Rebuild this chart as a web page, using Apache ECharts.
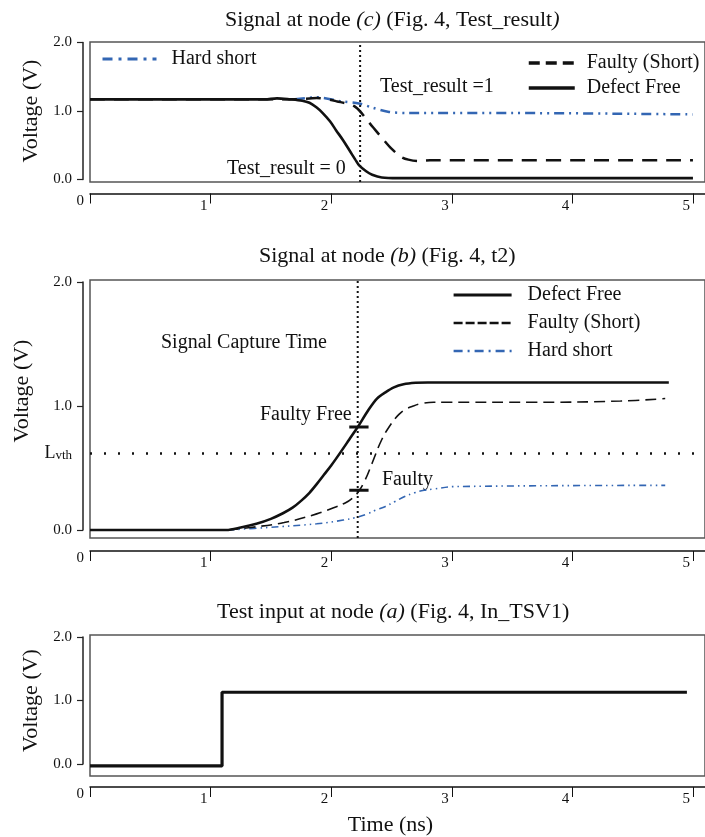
<!DOCTYPE html>
<html><head><meta charset="utf-8">
<script src="https://cdn.jsdelivr.net/npm/echarts@6/dist/echarts.min.js"></script>
<style>html,body{margin:0;padding:0;background:#fff}#c{width:705px;height:837px}</style>
</head><body><div id="c"></div>
<script>
// ---------- data ----------
const xTicks = [0, 1, 2, 3, 4, 5];
const yTicks = [0, 1, 2];
const lvth = 0.62;          // threshold level (node b)
const tResult = 2.24;       // sampling instant, node c
const tCapture = 2.22;      // signal capture time, node b

// node (c) Test_result : [time ns, V]
const cDefectFree = [[0,1.17],[1.45,1.17],[1.55,1.185],[1.66,1.17],[1.76,1.15],[1.82,1.12],[1.88,1.05],[1.93,0.97],[1.99,0.85],[2.04,0.72],[2.10,0.57],[2.15,0.43],[2.20,0.29],[2.23,0.21],[2.29,0.12],[2.34,0.07],[2.42,0.03],[2.55,0.02],[5.0,0.02]];
const cFaulty = [[0,1.17],[1.70,1.17],[1.88,1.19],[2.05,1.14],[2.20,1.06],[2.31,0.84],[2.42,0.61],[2.50,0.45],[2.58,0.33],[2.64,0.29],[2.72,0.27],[2.82,0.28],[5.0,0.28]];
const cHardShort = [[1.70,1.17],[1.88,1.20],[2.09,1.14],[2.23,1.11],[2.34,1.05],[2.47,0.99],[2.64,0.97],[3.5,0.97],[5.0,0.95]];

// node (b) t2
const bDefectFree = [[0,0.0],[1.13,0.0],[1.25,0.02],[1.38,0.05],[1.50,0.09],[1.60,0.135],[1.68,0.18],[1.75,0.235],[1.82,0.30],[1.88,0.37],[1.94,0.445],[2.00,0.52],[2.08,0.63],[2.15,0.73],[2.22,0.83],[2.31,0.97],[2.38,1.06],[2.45,1.11],[2.52,1.15],[2.60,1.175],[2.70,1.187],[2.80,1.19],[4.80,1.19]];
const bFaulty = [[1.14,0.0],[1.33,0.02],[1.61,0.06],[1.88,0.13],[2.02,0.18],[2.12,0.22],[2.18,0.26],[2.22,0.30],[2.28,0.40],[2.34,0.54],[2.42,0.73],[2.50,0.86],[2.56,0.93],[2.61,0.97],[2.68,1.00],[2.75,1.02],[2.85,1.03],[2.96,1.03],[3.67,1.03],[4.40,1.04],[4.77,1.06]];
const bHardShort = [[1.14,0.0],[1.47,0.02],[1.88,0.05],[2.10,0.08],[2.20,0.10],[2.30,0.13],[2.37,0.16],[2.45,0.19],[2.53,0.23],[2.61,0.27],[2.69,0.30],[2.77,0.32],[2.85,0.33],[3.02,0.35],[4.77,0.36]];
const bMarkFree = [[2.15,0.83],[2.31,0.83]];
const bMarkFaulty = [[2.15,0.32],[2.31,0.32]];

// node (a) In_TSV1
const aInput = [[0,-0.03],[1.095,-0.03],[1.095,1.13],[4.95,1.13]];

// ---------- chart ----------
const F = 'Liberation Serif';
const BLUE = '#3366b3';
const INK = '#111';
const X_MAX = 5.1;
const SUF = ' @b';

function frameGrid(top, height) {
  return {left: 90, right: -10, top: top, height: height, show: true,
          borderColor: '#555', borderWidth: 1.5, backgroundColor: 'transparent'};
}
function dataGrid(top, height) {
  return {left: 90, right: -10, top: top, height: height, show: false};
}
function hiddenX(g) { return {type: 'value', gridIndex: g, min: 0, max: X_MAX, show: false}; }
function hiddenY(g) { return {type: 'value', gridIndex: g, min: 0, max: 1, show: false}; }
function dataX(g, offset, extra) {
  return Object.assign({
    type: 'value', gridIndex: g, min: 0, max: X_MAX, position: 'bottom', offset: offset,
    axisLine: {show: true, onZero: false, lineStyle: {color: INK, width: 1.5}},
    axisTick: {show: true, customValues: xTicks, length: 10, lineStyle: {color: INK, width: 1}},
    axisLabel: {customValues: xTicks, fontFamily: F, fontSize: 15, color: INK,
      align: 'right', verticalAlign: 'top', margin: 5, padding: [0, 3, 0, 0],
      formatter: v => v === 0 ? '{z|0}' : String(v),
      rich: {z: {fontFamily: F, fontSize: 15, color: INK, padding: [0, 3, 0, 0], lineHeight: 5}}},
    splitLine: {show: false}
  }, extra || {});
}
function dataY(g, extra) {
  return Object.assign({
    type: 'value', gridIndex: g, min: 0, max: 2, interval: 1, position: 'left', offset: 7,
    axisLine: {show: true, onZero: false, lineStyle: {color: '#222', width: 1.5}},
    axisTick: {show: true, length: 6, lineStyle: {color: '#222', width: 1.2}},
    axisLabel: {fontFamily: F, fontSize: 15, color: INK, margin: 11, formatter: v => v.toFixed(1)},
    splitLine: {show: false},
    name: 'Voltage (V)', nameLocation: 'middle', nameGap: 41,
    nameTextStyle: {fontFamily: F, fontSize: 22, color: INK}
  }, extra || {});
}

const dashDotDot = [10, 5, 2, 5, 2, 5];
const dashDotDotThin = [7, 4, 1.5, 4, 1.5, 4];
const legendText = {fontFamily: F, fontSize: 20, color: INK, lineHeight: 20};

const option = {
  animation: false,
  backgroundColor: '#fff',
  title: [
    {left: 225, top: 9, padding: 0, text: 'Signal at node {i|(c)} (Fig. 4, Test_result{i|)}',
     textStyle: {fontFamily: F, fontSize: 22, fontWeight: 'normal', color: INK,
       rich: {i: {fontFamily: F, fontSize: 22, fontStyle: 'italic', color: INK}}}},
    {left: 259, top: 245, padding: 0, text: 'Signal at node {i|(b)} (Fig. 4, t2)',
     textStyle: {fontFamily: F, fontSize: 22, fontWeight: 'normal', color: INK,
       rich: {i: {fontFamily: F, fontSize: 22, fontStyle: 'italic', color: INK}}}},
    {left: 217, top: 601, padding: 0, text: 'Test input at node {i|(a)} (Fig. 4, In_TSV1)',
     textStyle: {fontFamily: F, fontSize: 22, fontWeight: 'normal', color: INK,
       rich: {i: {fontFamily: F, fontSize: 22, fontStyle: 'italic', color: INK}}}}
  ],
  legend: [
    {data: ['Hard short'], left: 101, top: 49, padding: 0, orient: 'vertical', selectedMode: false,
     itemWidth: 54, itemHeight: 14, itemStyle: {opacity: 0},
     lineStyle: {width: 3, type: [10, 6, 3, 6]},
     textStyle: Object.assign({padding: [0, 0, 0, 10]}, legendText)},
    {data: [{name: 'Faulty (Short)', lineStyle: {width: 3.5, type: [11, 6]}},
            {name: 'Defect Free', lineStyle: {width: 3.5}}],
     left: 527, top: 53, padding: 0, orient: 'vertical',
     selectedMode: false, itemWidth: 46, itemHeight: 14, itemGap: 5, itemStyle: {opacity: 0},
     textStyle: Object.assign({padding: [0, 0, 0, 7]}, legendText)},
    {data: [{name: 'Defect Free' + SUF, lineStyle: {width: 3.2}},
            {name: 'Faulty (Short)' + SUF, lineStyle: {width: 2.6, type: [9, 3]}},
            {name: 'Hard short' + SUF, lineStyle: {width: 2.6, type: [9, 5, 2, 5]}}],
     left: 452, top: 285,
     padding: 0, orient: 'vertical', selectedMode: false, itemWidth: 58, itemHeight: 14, itemGap: 8,
     itemStyle: {opacity: 0}, formatter: n => n.replace(SUF, ''),
     textStyle: Object.assign({padding: [0, 0, 0, 11]}, legendText)}
  ],
  grid: [frameGrid(42, 140), dataGrid(42.5, 137), frameGrid(280, 258), dataGrid(282, 248),
         frameGrid(635, 141), dataGrid(637, 127)],
  xAxis: [hiddenX(0), dataX(1, 14), hiddenX(2), dataX(3, 21), hiddenX(4),
          dataX(5, 23, {name: 'Time (ns)', nameLocation: 'middle', nameGap: 27,
            nameTextStyle: {fontFamily: F, fontSize: 22, color: INK, padding: [0, 14, 0, 0]}})],
  yAxis: [hiddenY(0), dataY(1), hiddenY(2),
          dataY(3, {
            axisTick: {show: true, length: 6, customValues: yTicks, lineStyle: {color: '#222', width: 1.2}},
            axisLabel: {customValues: [0, lvth, 1, 2], fontFamily: F, fontSize: 15, color: INK, margin: 11,
              formatter: v => Math.abs(v - lvth) < 1e-9 ? '{L|L}{s|vth}' : v.toFixed(1),
              rich: {L: {fontFamily: F, fontSize: 18, color: INK, verticalAlign: 'bottom'},
                     s: {fontFamily: F, fontSize: 13, color: INK, verticalAlign: 'bottom'}}},
            nameTextStyle: {fontFamily: F, fontSize: 22, color: INK, padding: [0, 0, 0, 30]}
          }),
          hiddenY(4), dataY(5)],
  series: [
    // ----- node c -----
    {name: 'Hard short', type: 'line', xAxisIndex: 1, yAxisIndex: 1, data: cHardShort, symbol: 'none',
     clip: false, smooth: 0.3, z: 2, itemStyle: {color: BLUE}, lineStyle: {color: BLUE, width: 2.5, type: dashDotDot}},
    {name: 'Faulty (Short)', type: 'line', xAxisIndex: 1, yAxisIndex: 1, data: cFaulty, symbol: 'none',
     clip: false, smooth: 0.3, z: 3, itemStyle: {color: INK}, lineStyle: {color: INK, width: 2.5, type: [15, 9]}},
    {name: 'Defect Free', type: 'line', xAxisIndex: 1, yAxisIndex: 1, data: cDefectFree, symbol: 'none',
     clip: false, smooth: 0.3, z: 4, itemStyle: {color: INK}, lineStyle: {color: INK, width: 2.6}},
    {name: 'tResult', type: 'line', xAxisIndex: 0, yAxisIndex: 0, data: [[tResult, 0], [tResult, 1]],
     symbol: 'none', z: 5, lineStyle: {color: INK, width: 2, type: [2, 3]}},
    // ----- node b -----
    {name: 'Defect Free' + SUF, type: 'line', xAxisIndex: 3, yAxisIndex: 3, data: bDefectFree, symbol: 'none',
     clip: false, smooth: 0.3, z: 4, itemStyle: {color: INK}, lineStyle: {color: INK, width: 2.6},
     markLine: {silent: true, symbol: 'none', label: {show: false},
       lineStyle: {color: INK, width: 2.5, type: [2, 12]}, data: [{yAxis: lvth}]}},
    {name: 'Faulty (Short)' + SUF, type: 'line', xAxisIndex: 3, yAxisIndex: 3, data: bFaulty, symbol: 'none',
     clip: false, smooth: 0.4, z: 3, itemStyle: {color: INK}, lineStyle: {color: INK, width: 1.6, type: [11, 6]}},
    {name: 'Hard short' + SUF, type: 'line', xAxisIndex: 3, yAxisIndex: 3, data: bHardShort, symbol: 'none',
     clip: false, smooth: 0.4, z: 2, itemStyle: {color: BLUE}, lineStyle: {color: BLUE, width: 1.6, type: dashDotDotThin}},
    {name: 'markFree', type: 'line', xAxisIndex: 3, yAxisIndex: 3, data: bMarkFree, symbol: 'none',
     z: 6, lineStyle: {color: INK, width: 3}},
    {name: 'markFaulty', type: 'line', xAxisIndex: 3, yAxisIndex: 3, data: bMarkFaulty, symbol: 'none',
     z: 6, lineStyle: {color: INK, width: 3}},
    {name: 'tCapture', type: 'line', xAxisIndex: 2, yAxisIndex: 2, data: [[tCapture, 0], [tCapture, 1]],
     symbol: 'none', z: 5, lineStyle: {color: INK, width: 2, type: [2, 3]}},
    // ----- node a -----
    {name: 'In_TSV1', type: 'line', xAxisIndex: 5, yAxisIndex: 5, data: aInput, symbol: 'none',
     clip: false, z: 3, lineStyle: {color: INK, width: 3.2}}
  ],
  graphic: [
    {type: 'text', x: 380, y: 87, style: {text: 'Test_result =1', font: '20px "Liberation Serif"', fill: INK, verticalAlign: 'middle'}},
    {type: 'text', x: 227, y: 169, style: {text: 'Test_result = 0', font: '20px "Liberation Serif"', fill: INK, verticalAlign: 'middle'}},
    {type: 'text', x: 161, y: 343, style: {text: 'Signal Capture Time', font: '20px "Liberation Serif"', fill: INK, verticalAlign: 'middle'}},
    {type: 'text', x: 260, y: 415, style: {text: 'Faulty Free', font: '20px "Liberation Serif"', fill: INK, verticalAlign: 'middle'}},
    {type: 'text', x: 382, y: 480, style: {text: 'Faulty', font: '20px "Liberation Serif"', fill: INK, verticalAlign: 'middle'}}
  ]
};
const chart = echarts.init(document.getElementById('c'));
chart.setOption(option);
</script>
</body></html>
